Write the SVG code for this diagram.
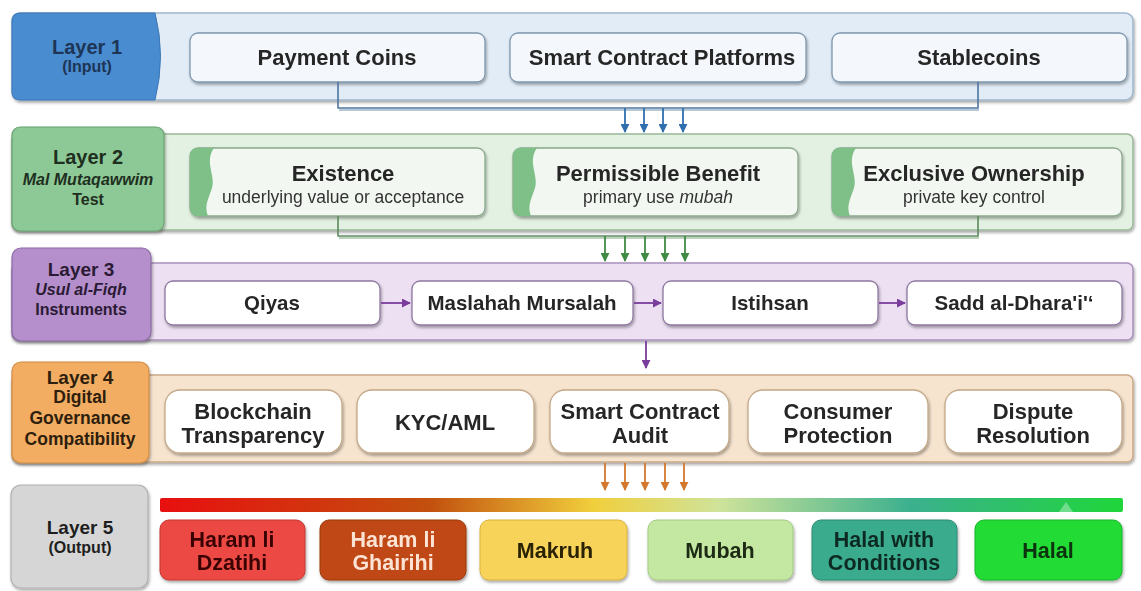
<svg xmlns="http://www.w3.org/2000/svg" width="1141" height="591" viewBox="0 0 1141 591">
  <defs>
    <filter id="shadow" x="-10%" y="-20%" width="120%" height="150%">
      <feDropShadow dx="1" dy="2" stdDeviation="1.6" flood-color="#000" flood-opacity="0.35"/>
    </filter>
    <linearGradient id="verdict" x1="0" y1="0" x2="1" y2="0">
      <stop offset="0" stop-color="#e80f0f"/>
      <stop offset="0.28" stop-color="#c2500e"/>
      <stop offset="0.45" stop-color="#f1cf3c"/>
      <stop offset="0.58" stop-color="#cfe39a"/>
      <stop offset="0.78" stop-color="#3bb08e"/>
      <stop offset="1" stop-color="#1fd63a"/>
    </linearGradient>
    <marker id="ah-blue" viewBox="0 0 10 10" refX="9" refY="5" markerWidth="5" markerHeight="5" orient="auto">
      <path d="M0,0 L10,5 L0,10 Z" fill="#2f6fae"/>
    </marker>
    <marker id="ah-green" viewBox="0 0 10 10" refX="9" refY="5" markerWidth="5" markerHeight="5" orient="auto">
      <path d="M0,0 L10,5 L0,10 Z" fill="#3f8a45"/>
    </marker>
    <marker id="ah-purple" viewBox="0 0 10 10" refX="9" refY="5" markerWidth="5" markerHeight="5" orient="auto">
      <path d="M0,0 L10,5 L0,10 Z" fill="#7a3d9c"/>
    </marker>
    <marker id="ah-orange" viewBox="0 0 10 10" refX="9" refY="5" markerWidth="5" markerHeight="5" orient="auto">
      <path d="M0,0 L10,5 L0,10 Z" fill="#d2792d"/>
    </marker>
  </defs>
  <style>
    text { font-family: "Liberation Sans", Arial, Helvetica, sans-serif; text-anchor: middle; }
    .tabT { font-size: 20px; font-weight: bold; }
    .tabT2 { font-size: 19px; font-weight: bold; }
    .tabS { font-size: 16px; font-weight: bold; }
    .tabS2 { font-size: 17.5px; font-weight: bold; }
    .it { font-style: italic; }
    .node { filter: url(#shadow); }
    .n1 { fill: #f4f8fc; stroke: #7f97ad; stroke-width: 1.3; }
    .n2 { fill: #f2f8f1; stroke: #8aa88c; stroke-width: 1.3; }
    .n3 { fill: #ffffff; stroke: #8e77a0; stroke-width: 1.3; }
    .n4 { fill: #ffffff; stroke: #c4a887; stroke-width: 1.3; }
    .lbl { font-size: 22px; font-weight: bold; fill: #262626; }
    .lbl3 { font-size: 20.5px; font-weight: bold; fill: #262626; }
    .lbl4 { font-size: 22px; font-weight: bold; fill: #262626; }
    .sub { font-size: 17.5px; fill: #333; }
    .v5 { font-size: 21.5px; font-weight: bold; }
  </style>

  <!-- Layer 1: input -->
  <g id="layer1">
    <rect x="12" y="13" width="1121" height="87" rx="8" fill="#e1ecf7" stroke="#9fb6cc" stroke-width="1.5" filter="url(#shadow)"/>
    <path d="M20,13 H155 Q166,56 155,100 H20 Q12,100 12,92 V21 Q12,13 20,13 Z" fill="#4a8cd0" stroke="#3b77b5" stroke-width="1"/>
    <text class="tabT" x="87" y="54" fill="#1d3556">Layer 1</text>
    <text class="tabS" x="87" y="72" fill="#1d3556">(Input)</text>
  </g>
  <g id="payment-coins" class="node">
    <rect class="n1" x="190" y="33" width="295" height="49" rx="8"/>
    <text class="lbl" x="337" y="65">Payment Coins</text>
  </g>
  <g id="smart-contract-platforms" class="node">
    <rect class="n1" x="510" y="33" width="296" height="49" rx="8"/>
    <text class="lbl" x="662" y="65">Smart Contract Platforms</text>
  </g>
  <g id="stablecoins" class="node">
    <rect class="n1" x="832" y="33" width="295" height="49" rx="8"/>
    <text class="lbl" x="979" y="65">Stablecoins</text>
  </g>

  <!-- Layer 2: Mal Mutaqawwim test -->
  <g id="layer2">
    <rect x="12" y="134" width="1121" height="96" rx="6" fill="#e3f1e2" stroke="#9bb89b" stroke-width="1.5" filter="url(#shadow)"/>
    <rect x="12" y="127" width="152" height="104" rx="8" fill="#8dc996" stroke="#6aa172" stroke-width="1.2" filter="url(#shadow)"/>
    <text class="tabT" x="88" y="164" fill="#1f2f1f">Layer 2</text>
    <text class="tabS it" x="88" y="185" fill="#1f2f1f" font-size="17px">Mal Mutaqawwim</text>
    <text class="tabS" x="88" y="205" fill="#1f2f1f">Test</text>
  </g>
  <g id="existence" class="node">
    <rect class="n2" x="190" y="148" width="295" height="68" rx="8"/>
    <path d="M198,148 H214 C204,162 216,176 212,188 C208,200 204,206 208,216 H198 Q190,216 190,208 V156 Q190,148 198,148 Z" fill="#7fc088"/>
    <text class="lbl" x="343" y="181">Existence</text>
    <text class="sub" x="343" y="203">underlying value or acceptance</text>
  </g>
  <g id="permissible-benefit" class="node">
    <rect class="n2" x="513" y="148" width="285" height="68" rx="8"/>
    <path d="M521,148 H537 C527,162 539,176 535,188 C531,200 527,206 531,216 H521 Q513,216 513,208 V156 Q513,148 521,148 Z" fill="#7fc088"/>
    <text class="lbl" x="658" y="181">Permissible Benefit</text>
    <text class="sub" x="658" y="203">primary use <tspan font-style="italic">mubah</tspan></text>
  </g>
  <g id="exclusive-ownership" class="node">
    <rect class="n2" x="832" y="148" width="290" height="68" rx="8"/>
    <path d="M840,148 H856 C846,162 858,176 854,188 C850,200 846,206 850,216 H840 Q832,216 832,208 V156 Q832,148 840,148 Z" fill="#7fc088"/>
    <text class="lbl" x="974" y="181">Exclusive Ownership</text>
    <text class="sub" x="974" y="203">private key control</text>
  </g>

  <!-- Layer 3: Usul al-Fiqh instruments -->
  <g id="layer3">
    <rect x="12" y="263" width="1121" height="77" rx="6" fill="#ece0f2" stroke="#a98fbc" stroke-width="1.5" filter="url(#shadow)"/>
    <rect x="12" y="248" width="139" height="93" rx="9" fill="#b48fcb" stroke="#8b69a4" stroke-width="1.2" filter="url(#shadow)"/>
    <text class="tabT2" x="81" y="276" fill="#2a1a33">Layer 3</text>
    <text class="tabS it" x="81" y="295" fill="#2a1a33">Usul al-Fiqh</text>
    <text class="tabS" x="81" y="315" fill="#2a1a33">Instruments</text>
  </g>
  <g id="qiyas" class="node">
    <rect class="n3" x="165" y="281" width="215" height="44" rx="8"/>
    <text class="lbl3" x="272" y="310">Qiyas</text>
  </g>
  <g id="maslahah-mursalah" class="node">
    <rect class="n3" x="412" y="281" width="221" height="44" rx="8"/>
    <text class="lbl3" x="522" y="310">Maslahah Mursalah</text>
  </g>
  <g id="istihsan" class="node">
    <rect class="n3" x="663" y="281" width="215" height="44" rx="8"/>
    <text class="lbl3" x="770" y="310">Istihsan</text>
  </g>
  <g id="sadd-al-dharai" class="node">
    <rect class="n3" x="907" y="281" width="215" height="44" rx="8"/>
    <text class="lbl3" x="1014" y="310">Sadd al-Dhara'i'‘</text>
  </g>

  <!-- Layer 4: digital governance compatibility -->
  <g id="layer4">
    <rect x="12" y="375" width="1121" height="87" rx="6" fill="#f6e4cf" stroke="#c9a986" stroke-width="1.5" filter="url(#shadow)"/>
    <rect x="12" y="362" width="137" height="101" rx="9" fill="#f2ad62" stroke="#cf8c45" stroke-width="1.2" filter="url(#shadow)"/>
    <text class="tabT2" x="80" y="384" fill="#2e1e0d">Layer 4</text>
    <text class="tabS2" x="80" y="403" fill="#2e1e0d">Digital</text>
    <text class="tabS2" x="80" y="424" fill="#2e1e0d">Governance</text>
    <text class="tabS2" x="80" y="445" fill="#2e1e0d">Compatibility</text>
  </g>
  <g id="blockchain-transparency" class="node">
    <rect class="n4" x="165" y="390" width="177" height="63" rx="15"/>
    <text class="lbl4" x="253" y="419">Blockchain</text>
    <text class="lbl4" x="253" y="443">Transparency</text>
  </g>
  <g id="kyc-aml" class="node">
    <rect class="n4" x="357" y="390" width="177" height="63" rx="15"/>
    <text class="lbl4" x="445" y="430">KYC/AML</text>
  </g>
  <g id="smart-contract-audit" class="node">
    <rect class="n4" x="550" y="390" width="179" height="63" rx="15"/>
    <text class="lbl4" x="640" y="419">Smart Contract</text>
    <text class="lbl4" x="640" y="443">Audit</text>
  </g>
  <g id="consumer-protection" class="node">
    <rect class="n4" x="748" y="390" width="180" height="63" rx="15"/>
    <text class="lbl4" x="838" y="419">Consumer</text>
    <text class="lbl4" x="838" y="443">Protection</text>
  </g>
  <g id="dispute-resolution" class="node">
    <rect class="n4" x="945" y="390" width="177" height="63" rx="15"/>
    <text class="lbl4" x="1033" y="419">Dispute</text>
    <text class="lbl4" x="1033" y="443">Resolution</text>
  </g>

  <!-- Layer 5: output verdicts -->
  <g id="layer5">
    <rect x="11" y="485" width="137" height="103" rx="10" fill="#d6d6d6" stroke="#b0b0b0" stroke-width="1.2" filter="url(#shadow)"/>
    <text class="tabT2" x="80" y="534" fill="#1e1e1e">Layer 5</text>
    <text class="tabS" x="80" y="553" fill="#1e1e1e">(Output)</text>
    <rect x="160" y="498" width="963" height="14" rx="2" fill="url(#verdict)"/>
    <path d="M1066,502 L1073,512 H1059 Z" fill="#ffffff" opacity="0.35"/>
  </g>
  <g id="haram-li-dzatihi" class="node">
    <rect x="160" y="520" width="145" height="60" rx="9" fill="#ec4a45" stroke="#c33630" stroke-width="1"/>
    <text class="v5" x="232" y="547" fill="#3a0606">Haram li</text>
    <text class="v5" x="232" y="570" fill="#3a0606">Dzatihi</text>
  </g>
  <g id="haram-li-ghairihi" class="node">
    <rect x="320" y="520" width="146" height="60" rx="9" fill="#c04712" stroke="#9c380c" stroke-width="1"/>
    <text class="v5" x="393" y="547" fill="#fbe3d5">Haram li</text>
    <text class="v5" x="393" y="570" fill="#fbe3d5">Ghairihi</text>
  </g>
  <g id="makruh" class="node">
    <rect x="480" y="520" width="147" height="60" rx="9" fill="#f8d35a" stroke="#d8b13e" stroke-width="1"/>
    <text class="v5" x="555" y="558" fill="#2a2205">Makruh</text>
  </g>
  <g id="mubah" class="node">
    <rect x="648" y="520" width="145" height="60" rx="9" fill="#c4e8a2" stroke="#a2c983" stroke-width="1"/>
    <text class="v5" x="720" y="558" fill="#1d2b13">Mubah</text>
  </g>
  <g id="halal-with-conditions" class="node">
    <rect x="812" y="520" width="145" height="60" rx="9" fill="#3aab8e" stroke="#2a8a70" stroke-width="1"/>
    <text class="v5" x="884" y="547" fill="#0e2a22">Halal with</text>
    <text class="v5" x="884" y="570" fill="#0e2a22">Conditions</text>
  </g>
  <g id="halal" class="node">
    <rect x="975" y="520" width="147" height="60" rx="9" fill="#21dc35" stroke="#18b52a" stroke-width="1"/>
    <text class="v5" x="1048" y="558" fill="#0b3010">Halal</text>
  </g>

  <!-- Connectors -->
  <g id="connectors" fill="none">
    <!-- layer 1 collector -->
    <path d="M338,82 V108 H978 V82" stroke="#4f76a0" stroke-width="1.6"/>
    <path d="M339,110 H979" stroke="#9fb4c9" stroke-width="1.4"/>
    <g stroke="#2f6fae" stroke-width="1.8" marker-end="url(#ah-blue)">
      <path d="M625,108 V132"/>
      <path d="M644,108 V132"/>
      <path d="M663,108 V132"/>
      <path d="M683,108 V132"/>
    </g>
    <!-- layer 2 collector -->
    <path d="M338,216 V236 H978 V216" stroke="#5e8a60" stroke-width="1.6"/>
    <path d="M339,238 H979" stroke="#a6c2a6" stroke-width="1.4"/>
    <g stroke="#3f8a45" stroke-width="1.8" marker-end="url(#ah-green)">
      <path d="M605,236 V261"/>
      <path d="M625,236 V261"/>
      <path d="M645,236 V261"/>
      <path d="M665,236 V261"/>
      <path d="M685,236 V261"/>
    </g>
    <!-- layer 3 chain -->
    <g stroke="#7a3d9c" stroke-width="1.8" marker-end="url(#ah-purple)">
      <path d="M381,303 H410"/>
      <path d="M634,303 H661"/>
      <path d="M879,303 H905"/>
      <path d="M646,341 V368"/>
    </g>
    <!-- layer 4 to verdicts -->
    <g stroke="#d2792d" stroke-width="1.8" marker-end="url(#ah-orange)">
      <path d="M605,463 V490"/>
      <path d="M625,463 V490"/>
      <path d="M645,463 V490"/>
      <path d="M665,463 V490"/>
      <path d="M684,463 V490"/>
    </g>
  </g>
</svg>
